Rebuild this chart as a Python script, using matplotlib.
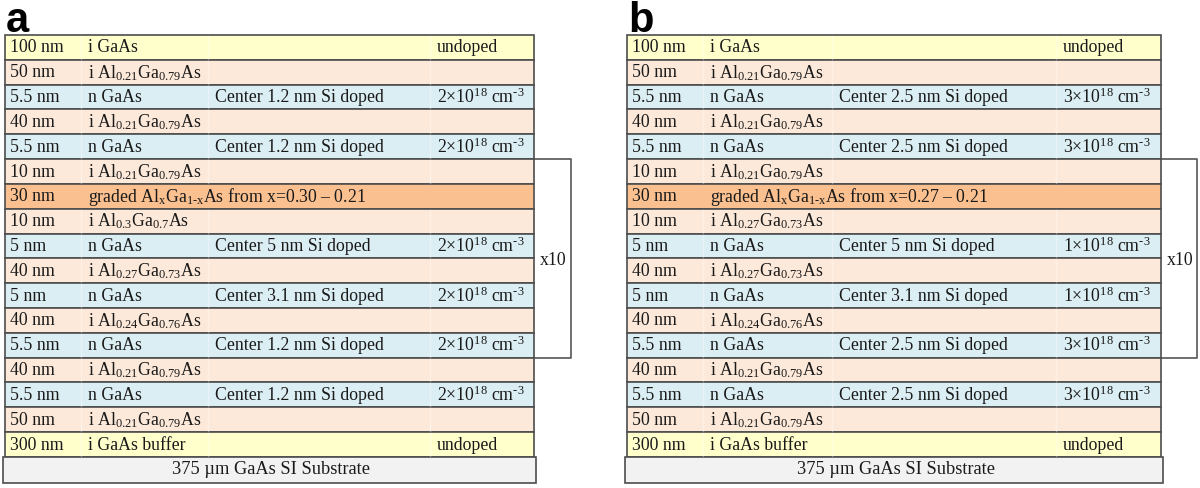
import matplotlib
matplotlib.use('Agg')
import matplotlib.pyplot as plt
from matplotlib.patches import Rectangle

plt.rcParams['font.family'] = ['Liberation Serif', 'DejaVu Serif']
plt.rcParams['mathtext.fontset'] = 'custom'
plt.rcParams['mathtext.rm'] = 'Liberation Serif'
plt.rcParams['mathtext.it'] = 'Liberation Serif:italic'
plt.rcParams['mathtext.default'] = 'regular'

# layer stack, top to bottom (same thickness column for both panels)
thickness = ['100 nm', '50 nm', '5.5 nm', '40 nm', '5.5 nm', '10 nm', '30 nm', '10 nm',
             '5 nm', '40 nm', '5 nm', '40 nm', '5.5 nm', '40 nm', '5.5 nm', '50 nm', '300 nm']
kind = ['cap', 'barrier', 'dope', 'barrier', 'dope', 'barrier', 'graded', 'barrier',
        'dope', 'barrier', 'dope', 'barrier', 'dope', 'barrier', 'dope', 'barrier', 'cap']

AL21 = 'i Al$_{0.21}$Ga$_{0.79}$As'
material_a = ['i GaAs', AL21, 'n GaAs', AL21, 'n GaAs', AL21,
              r'graded Al$_{x}$Ga$_{1\text{-}x}$As from x=0.30 – 0.21',
              'i Al$_{0.3}$Ga$_{0.7}$As', 'n GaAs', 'i Al$_{0.27}$Ga$_{0.73}$As',
              'n GaAs', 'i Al$_{0.24}$Ga$_{0.76}$As', 'n GaAs', AL21, 'n GaAs', AL21,
              'i GaAs buffer']
material_b = ['i GaAs', AL21, 'n GaAs', AL21, 'n GaAs', AL21,
              r'graded Al$_{x}$Ga$_{1\text{-}x}$As from x=0.27 – 0.21',
              'i Al$_{0.27}$Ga$_{0.73}$As', 'n GaAs', 'i Al$_{0.27}$Ga$_{0.73}$As',
              'n GaAs', 'i Al$_{0.24}$Ga$_{0.76}$As', 'n GaAs', AL21, 'n GaAs', AL21,
              'i GaAs buffer']

delta_a = ['', '', 'Center 1.2 nm Si doped', '', 'Center 1.2 nm Si doped', '', '', '',
           'Center 5 nm Si doped', '', 'Center 3.1 nm Si doped', '', 'Center 1.2 nm Si doped',
           '', 'Center 1.2 nm Si doped', '', '']
delta_b = ['', '', 'Center 2.5 nm Si doped', '', 'Center 2.5 nm Si doped', '', '', '',
           'Center 5 nm Si doped', '', 'Center 3.1 nm Si doped', '', 'Center 2.5 nm Si doped',
           '', 'Center 2.5 nm Si doped', '', '']

# doping level (x10^18 cm^-3), 0 = undoped, None = blank
conc_a = [0, None, 2, None, 2, None, None, None, 2, None, 2, None, 2, None, 2, None, 0]
conc_b = [0, None, 3, None, 3, None, None, None, 1, None, 1, None, 3, None, 3, None, 0]

substrate = '375 µm GaAs SI Substrate'
repeat_rows = (5, 12)   # first and last row inside the x10 bracket
repeat_label = 'x10'

fill = {'cap': '#FFFFCC', 'barrier': '#FDE9D9', 'dope': '#DBEEF3', 'graded': '#FAC090'}
edge = '#4d4d4d'
txt = '#1a1a1a'

fig = plt.figure(figsize=(12, 4.88), dpi=100)
ax = fig.add_axes([0, 0, 1, 1])
ax.set_xlim(0, 1200)
ax.set_ylim(488, 0)
ax.axis('off')

Y0 = 35.0
RH = 24.82
FS = 12.8


def conc_text(c):
    if c is None:
        return ''
    if c == 0:
        return 'undoped'
    return f'{c}×10$^{{18}}$ cm$^{{\\text{{-}}3}}$'


def draw_panel(cols, label, material, delta, conc, bracket_right):
    x0, xe = cols[0], cols[-1]
    for i in range(len(thickness)):
        y = Y0 + i * RH
        ax.add_patch(Rectangle((x0, y), xe - x0, RH, facecolor=fill[kind[i]],
                               edgecolor=edge, lw=1.2, zorder=2))
        yc = y + RH / 2 + 0.5
        if kind[i] != 'graded':
            for cx in cols[1:-1]:
                ax.plot([cx, cx], [y + 1, y + RH - 1], color='white', alpha=0.35,
                        lw=1.0, zorder=3)
        ax.text(cols[0] + 5, yc, thickness[i], fontsize=FS, color=txt, va='center', zorder=4)
        ax.text(cols[1] + 7, yc, material[i], fontsize=FS, color=txt, va='center', zorder=4)
        if delta[i]:
            ax.text(cols[2] + 7, yc, delta[i], fontsize=FS, color=txt, va='center', zorder=4)
        ct = conc_text(conc[i])
        if ct:
            ax.text(cols[3] + 7, yc, ct, fontsize=FS, color=txt, va='center', zorder=4)

    # substrate
    ys = Y0 + len(thickness) * RH
    ax.add_patch(Rectangle((x0 - 2, ys), xe - x0 + 4, 483 - ys, facecolor='#F2F2F2',
                           edgecolor=edge, lw=1.2, zorder=2))
    ax.text((x0 + xe) / 2 + 2, (ys + 483) / 2, substrate, fontsize=FS + 0.4, color=txt,
            ha='center', va='center', zorder=4)

    # repeat bracket
    yt = Y0 + repeat_rows[0] * RH
    yb = Y0 + (repeat_rows[1] + 1) * RH
    ax.plot([xe, bracket_right, bracket_right, xe], [yt, yt, yb, yb], color='#555555',
            lw=1.2, zorder=1)
    ax.text(xe + 6, (yt + yb) / 2 + 2, repeat_label, fontsize=FS, color=txt,
            va='center', zorder=4)

    ax.text(x0 + 1, 32, label, fontsize=30, fontweight='bold', family='Liberation Sans',
            color='black', va='baseline', ha='left')


draw_panel([5, 81, 208, 430, 534], 'a', material_a, delta_a, conc_a, 571)
draw_panel([627, 703, 832, 1056, 1161], 'b', material_b, delta_b, conc_b, 1197)

fig.savefig('out.png', dpi=100)
